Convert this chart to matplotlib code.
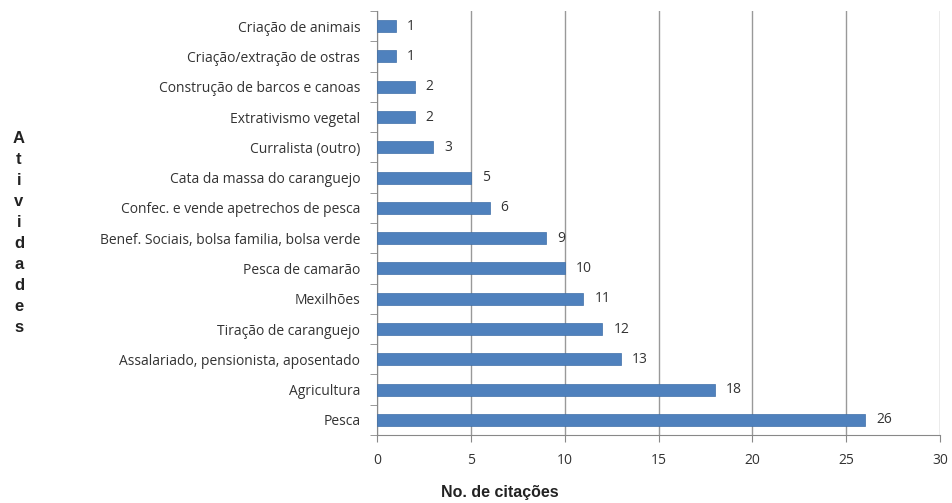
import matplotlib
matplotlib.use("Agg")
import matplotlib.pyplot as plt

categories = [
    "Criação de animais",
    "Criação/extração de ostras",
    "Construção de barcos e canoas",
    "Extrativismo vegetal",
    "Curralista (outro)",
    "Cata da massa do caranguejo",
    "Confec. e vende apetrechos de pesca",
    "Benef. Sociais, bolsa familia, bolsa verde",
    "Pesca de camarão",
    "Mexilhões",
    "Tiração de caranguejo",
    "Assalariado, pensionista, aposentado",
    "Agricultura",
    "Pesca",
]
values = [1, 1, 2, 2, 3, 5, 6, 9, 10, 11, 12, 13, 18, 26]
xticks = [0, 5, 10, 15, 20, 25, 30]

plt.rcParams['font.family'] = ['Open Sans', 'DejaVu Sans']

fig = plt.figure(figsize=(9.52, 5.03), dpi=100)
ax = fig.add_axes([377/952, 1-435/503, (940-377)/952, (435-11)/503])

n = len(categories)
ypos = list(range(n))
ax.barh(ypos, values, height=0.4, color="#4F81BD", edgecolor="#3F6FA8", linewidth=0.5, zorder=3)
for y, v in zip(ypos, values):
    ax.annotate(str(v), (v, y), xytext=(8, 0), textcoords="offset points",
                va="center", ha="left", fontsize=10, color="#333333")

ax.set_ylim(n - 0.5, -0.5)
ax.set_xlim(0, 30)
ax.set_xticks(xticks)
ax.set_xticklabels([str(t) for t in xticks], fontsize=10, color="#333333")
ax.set_yticks(ypos)
ax.set_yticklabels(categories, fontsize=10, color="#333333")
ax.tick_params(axis="y", length=0, pad=12)
ax.tick_params(axis="x", length=5, color="#888888", pad=8)
ax.set_yticks([i - 0.5 for i in range(n + 1)], minor=True)
ax.tick_params(axis="y", which="minor", length=5, color="#888888")

ax.grid(axis="x", color="#999999", linewidth=1, zorder=0)
for s in ["top", "right"]:
    ax.spines[s].set_visible(False)
for s in ["left", "bottom"]:
    ax.spines[s].set_color("#888888")

fig.text(500/952, 1-492/503, "No. de citações", ha="center", va="center",
         fontsize=11.5, fontweight="bold", color="#222222",
         family=["Liberation Sans"])
fig.text(19/952, 1-233/503, "\n".join("Atividades"), ha="center", va="center",
         fontsize=12, fontweight="bold", color="#222222", linespacing=1.5,
         family=["Liberation Sans"])

fig.savefig("out.png", dpi=100)
